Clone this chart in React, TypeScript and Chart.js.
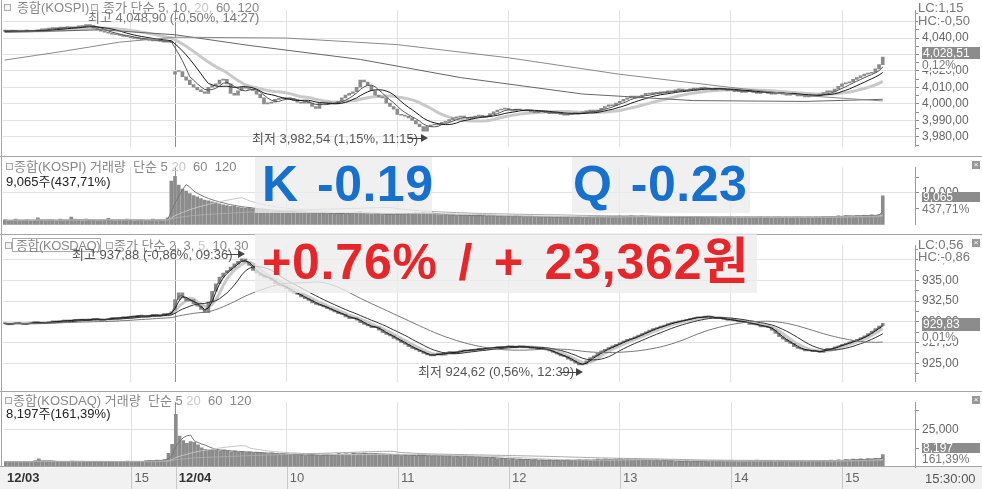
import React, { useEffect, useRef } from 'react';
import { Chart, registerables } from 'chart.js';

Chart.register(...registerables);

const FONT = '"Liberation Sans", "Noto Sans CJK KR", "DejaVu Sans", sans-serif';
Chart.defaults.font.family = FONT;

// ---------- time axis (bar index, 2-minute bars, 0 = 12/04 09:00) ----------
const X_MIN = -46.42;
const X_MAX = 199.7;
const TIME_TICKS = [-12, 0, 30, 60, 90, 120, 150, 180];
const TIME_LABELS = ['15', '12/04', '10', '11', '12', '13', '14', '15'];
const FIRST_DAY = '12/03';

// ---------- KOSPI ----------
const KOSPI_CLOSE_1203 = [
  4044.2, 4044.0, 4044.5, 4044.1, 4043.8, 4044.3, 4044.6, 4044.0, 4044.4,
  4045.0, 4045.5, 4045.2, 4046.0, 4045.8, 4046.3, 4046.0, 4046.4,
  4046.5, 4046.2, 4046.8, 4047.0, 4047.5, 4048.2,
  4047.6, 4046.0, 4045.0, 4044.2,
  4043.5, 4043.0, 4042.4, 4042.0, 4041.6, 4041.0, 4040.8,
  4040.2, 4039.8, 4039.5, 4039.0, 4039.4, 4038.6, 4038.2, 4038.8, 4037.9, 4037.5, 4038.0, 4037.2,
];
const KOSPI_OPEN_1204 = 4018.0;
const KOSPI_CLOSE_1204 = [
  4019.7, 4019.7, 4016.5, 4014.4, 4011.7, 4010.1, 4008.5, 4007.4, 4006.4, 4010.1,
  4011.2, 4012.2, 4014.4, 4014.9, 4012.2, 4006.4, 4005.3, 4008.0, 4010.1, 4009.6,
  4009.0, 4008.0, 4005.9, 4003.7, 4000.0, 4000.5, 4001.1, 4002.7, 4003.2, 4003.7,
  4003.2, 4003.2, 4002.1, 4001.1, 4000.5, 4001.6, 4000.5, 3998.4, 3997.3, 4000.5,
  4001.1, 4000.5, 4000.5, 4000.0, 4001.6, 4003.7, 4005.3, 4006.4, 4007.4, 4010.1,
  4014.4, 4013.3, 4011.2, 4008.0, 4005.3, 4004.3, 4003.7, 4000.5, 3998.4, 3996.8,
  3993.6, 3993.1, 3992.6, 3991.5, 3989.9, 3987.8, 3986.2, 3983.5, 3986.2, 3987.2,
  3987.2, 3987.8, 3988.8, 3989.4, 3990.4, 3991.5, 3992.0, 3992.6, 3991.5, 3991.0,
  3992.0, 3992.6, 3993.1, 3992.0, 3992.6, 3994.1, 3995.2, 3996.3, 3996.8, 3997.3,
  3996.3, 3995.7, 3996.8, 3996.3, 3995.7, 3996.3, 3995.2, 3994.7, 3995.2, 3995.7,
  3994.7, 3994.1, 3994.1, 3994.7, 3993.6, 3993.1, 3993.6, 3994.1, 3994.7, 3994.1,
  3995.2, 3995.7, 3996.3, 3995.2, 3996.3, 3997.3, 3998.4, 3999.5, 3998.9, 4000.5,
  4001.6, 4002.7, 4003.7, 4004.8, 4003.7, 4004.8, 4005.3, 4006.4, 4005.9, 4006.9,
  4006.4, 4007.4, 4006.9, 4008.0, 4007.4, 4008.5, 4009.0, 4008.0, 4008.5, 4009.0,
  4009.6, 4009.0, 4010.1, 4009.6, 4009.0, 4008.5, 4009.6, 4009.0, 4008.5, 4008.0,
  4008.5, 4007.4, 4008.0, 4006.9, 4007.4, 4008.0, 4006.9, 4006.4, 4006.9, 4007.4,
  4006.4, 4005.9, 4006.9, 4006.4, 4005.9, 4005.3, 4006.4, 4005.9, 4004.8, 4005.3,
  4004.3, 4004.8, 4005.3, 4004.8, 4005.9, 4006.9, 4008.0, 4007.4, 4009.0, 4010.6,
  4012.2, 4012.8, 4013.3, 4014.9, 4016.0, 4017.0, 4018.1, 4018.6, 4019.1, 4021.3,
  4023.9, 4028.51,
];
// 60 / 120 bar averages: [bar index, value]
const KOSPI_MA60: [number, number][] = [
  [-46, 4043.5], [-20, 4045.0], [0, 4042.0], [20, 4035.5], [50, 4027.0], [77, 4016.0],
  [110, 4006.0], [140, 4002.0], [170, 4001.5], [191, 4002.8],
];
const KOSPI_MA120: [number, number][] = [
  [-46, 4026.6], [-30, 4032.0], [-15, 4037.5], [0, 4040.5], [30, 4040.0], [60, 4036.0],
  [90, 4028.0], [120, 4018.0], [150, 4010.0], [170, 4005.0], [191, 4001.8],
];
const KOSPI_VOL_1203 = [
  1600, 1200, 1400, 1800, 1300, 1400, 1600, 1200, 1500, 2200, 1400, 1300, 1600, 1400, 1200,
  1800, 1500, 1400, 2400, 1600, 1400, 1300, 1800, 1600, 1400, 1200, 1500, 1600, 2000, 1400,
  1300, 1600, 1400, 1800, 1500, 1200, 1400, 1600, 1300, 1400, 1800, 1500, 1600, 1400, 2200, 13700,
];
const KOSPI_VOL_1204 = [
  15200, 12500, 11200, 10600, 9800, 9200, 8800, 8200, 7800, 7500,
  7200, 6900, 6600, 6300, 6000, 5800, 5900, 5500, 5300, 5200,
  5300, 5000, 4900, 4700, 4800, 4600, 4400, 4300, 4400, 4200,
  4100, 4000, 4200, 3900, 3800, 4000, 3700, 3900, 3800, 3600,
  3700, 3500, 3600, 3400, 3500, 3700, 3400, 3600, 3800, 4000,
  4200, 3700, 3500, 3400, 3300, 3400, 3200, 3300, 3400, 3200,
  3500, 3300, 3400, 3600, 3500, 3800, 3700, 4000, 3600, 3400,
  3300, 3200, 3100, 3200, 3000, 3100, 2900, 3000, 2900, 2800,
  2900, 2800, 3000, 2900, 2700, 2800, 2900, 2700, 2800, 2600,
  2700, 2600, 2800, 2700, 2500, 2600, 2700, 2500, 2600, 2400,
  2500, 2600, 2400, 2500, 2600, 2400, 2500, 2300, 2400, 2500,
  2300, 2400, 2500, 2400, 2600, 2500, 2400, 2600, 2500, 2700,
  2800, 2700, 2600, 2900, 2700, 2600, 2800, 2700, 2600, 2500,
  2600, 2700, 2500, 2400, 2600, 2500, 2400, 2500, 2600, 2400,
  2300, 2400, 2500, 2300, 2400, 2500, 2400, 2300, 2400, 2500,
  2400, 2300, 2400, 2300, 2500, 2400, 2300, 2400, 2500, 2300,
  2400, 2300, 2400, 2500, 2300, 2400, 2300, 2400, 2500, 2400,
  2300, 2400, 2300, 2500, 2400, 2600, 2500, 2700, 2600, 2800,
  2700, 2900, 2800, 2700, 2900, 2800, 3000, 2900, 3100, 3000,
  3200, 9065,
];

// ---------- KOSDAQ ----------
const KOSDAQ_CLOSE_1203 = [
  929.8, 929.7, 929.8, 929.9, 929.8, 929.7, 929.8, 929.9, 930.0, 929.9,
  929.8, 929.9, 930.0, 930.1, 930.0, 930.1, 930.2, 930.1, 930.2, 930.3,
  930.2, 930.3, 930.2, 930.3, 930.4, 930.3, 930.2, 930.3, 930.4, 930.5,
  930.4, 930.5, 930.6, 930.5, 930.7, 930.6, 930.8, 930.7, 930.6, 930.8,
  930.9, 930.7, 930.8, 931.0, 930.9, 931.2,
];
const KOSDAQ_OPEN_1204 = 931.4;
const KOSDAQ_CLOSE_1204 = [
  932.7, 933.5, 932.9, 932.5, 932.7, 932.2, 931.9, 931.5, 931.1, 932.4,
  933.7, 934.6, 935.4, 935.9, 936.2, 936.6, 937.0, 937.3, 937.6, 937.2,
  936.8, 936.2, 935.9, 935.6, 935.4, 935.3, 935.0, 934.6, 934.4, 934.3,
  934.0, 933.7, 933.5, 933.3, 933.0, 932.8, 932.6, 932.3, 932.1, 932.0,
  931.8, 931.6, 931.4, 931.2, 931.0, 930.9, 930.6, 930.4, 930.5, 930.2,
  929.9, 929.7, 929.5, 929.3, 929.4, 929.0, 928.7, 928.5, 928.3, 928.0,
  927.8, 927.5, 927.3, 927.0, 926.8, 926.6, 926.4, 926.2, 926.0, 925.9,
  926.1, 926.2, 926.0, 926.3, 926.4, 926.2, 926.4, 926.5, 926.6, 926.5,
  926.7, 926.6, 926.8, 926.7, 926.9, 926.8, 926.9, 927.0, 926.9, 927.0,
  927.1, 926.9, 927.0, 927.1, 926.9, 927.0, 926.8, 926.9, 926.7, 926.8,
  926.6, 926.5, 926.3, 926.1, 925.9, 925.8, 925.5, 925.3, 925.0, 924.8,
  924.9, 925.3, 925.7, 925.9, 926.2, 926.5, 926.7, 926.9, 927.1, 927.3,
  927.5, 927.7, 927.9, 928.0, 928.2, 928.4, 928.6, 928.8, 929.0, 929.2,
  929.3, 929.5, 929.6, 929.8, 929.9, 930.0, 930.1, 930.2, 930.3, 930.4,
  930.5, 930.6, 930.5, 930.7, 930.6, 930.5, 930.4, 930.5, 930.3, 930.2,
  930.3, 930.1, 930.0, 930.1, 929.9, 929.7, 929.8, 929.6, 929.4, 929.5,
  929.3, 929.0, 928.6, 928.2, 927.9, 927.6, 927.4, 927.0, 926.8, 926.7,
  926.5, 926.6, 926.4, 926.5, 926.3, 926.6, 926.8, 926.7, 927.0, 927.1,
  927.3, 927.4, 927.6, 927.7, 927.9, 928.1, 928.3, 928.6, 928.9, 929.2,
  929.5, 929.83,
];
const KOSDAQ_VOL_1203 = [
  3600, 3400, 3800, 3500, 3300, 3700, 3600, 3400, 4200, 5500,
  3800, 3600, 3500, 3400, 3700, 3600, 3500, 3800, 4000, 3600,
  3700, 3500, 3400, 3600, 3800, 3500, 3300, 3600, 3700, 3500,
  3400, 3600, 3800, 3900, 3600, 3700, 3500, 3800, 4200, 4500,
  4300, 4600, 4400, 5000, 9000, 15000,
];
const KOSDAQ_VOL_1204 = [
  35000, 20500, 17600, 15700, 16900, 16300, 14700, 12800, 11800, 11200,
  11600, 11000, 10800, 11200, 10400, 10000, 10500, 9800, 10200, 9600,
  9900, 9400, 9800, 9200, 9000, 8800, 9200, 8600, 8400, 8800,
  8200, 8000, 8500, 7800, 8200, 7600, 8000, 8400, 7800, 7500,
  8000, 8600, 8200, 7800, 9000, 8400, 8800, 8200, 9400, 8600,
  8800, 9200, 8400, 8800, 9000, 8200, 8600, 8000, 8400, 7800,
  8200, 7600, 8000, 7400, 7800, 7200, 7600, 8000, 7400, 7200,
  7800, 7400, 7600, 7200, 7600, 7000, 7400, 6800, 7200, 6600,
  7000, 6400, 6800, 6200, 6400, 5800, 6000, 5400, 5800, 5200,
  5000, 5400, 4800, 5200, 4600, 5000, 4400, 4800, 4200, 4600,
  4400, 4800, 4200, 4600, 4000, 4400, 4800, 4200, 4600, 5000,
  4400, 4800, 4200, 4600, 5200, 4800, 5400, 5000, 4600, 5200,
  5600, 5000, 5400, 4800, 5200, 4600, 5000, 4400, 4800, 4200,
  4600, 4000, 4400, 3800, 4200, 3600, 4000, 3800, 4200, 3600,
  4000, 3800, 4400, 4000, 3600, 4200, 3800, 4400, 4000, 3800,
  4200, 3800, 3600, 4000, 3800, 4400, 4000, 4600, 4200, 3800,
  4400, 4000, 3600, 4200, 3800, 4000, 3600, 4200, 3800, 4000,
  3600, 3800, 4200, 3800, 4000, 4400, 4000, 4600, 4200, 4800,
  4400, 5000, 4600, 5200, 4800, 5400, 5000, 5600, 5200, 5800,
  5400, 8197,
];

// ---------- axis ticks ----------
const KOSPI_MAJOR = [3980, 3990, 4000, 4010, 4020, 4030, 4040, 4050];
const KOSPI_MINOR = [3975, 3985, 3995, 4005, 4015, 4025, 4035, 4045, 4055];
const KOSDAQ_MAJOR = [925, 927.5, 930, 932.5, 935, 937.5];
const KOSDAQ_MINOR = [923.75, 926.25, 928.75, 931.25, 933.75, 936.25, 938.75];
const KOSPI_VOL_MAJOR = [10000];
const KOSPI_VOL_MINOR = [5000, 15000];
const KOSDAQ_VOL_MAJOR = [25000];
const KOSDAQ_VOL_MINOR = [12500, 37500];

// ---------- helpers ----------
type P = { x: number; v: number };
function series(d1: number[], d2: number[]): P[] {
  const out: P[] = [];
  d1.forEach((v, k) => out.push({ x: k - d1.length, v }));
  d2.forEach((v, k) => out.push({ x: k, v }));
  return out;
}
function sma(p: P[], n: number) {
  return p.map((q, k) => {
    const s = p.slice(Math.max(0, k - n + 1), k + 1);
    return { x: q.x, y: s.reduce((a, b) => a + b.v, 0) / s.length };
  });
}
function candles(p: P[], gapOpen: number) {
  return p.map((q, k) => {
    const o = q.x === 0 ? gapOpen : k === 0 ? q.v : p[k - 1].v;
    return { x: q.x, y: [o, q.v] };
  });
}
function fmt(v: number, dec: number) {
  const s = v.toFixed(dec);
  const [ip, fp] = s.split('.');
  const g = ip.replace(/\B(?=(\d{3})+(?!\d))/g, ',');
  return fp ? g + ',' + fp : g;
}
const tv = (c: any) => (c && c.tick ? c.tick.value : NaN);

const axisBandPlugin = {
  id: 'axisBand',
  beforeDraw(chart: any) {
    const { ctx, chartArea, width, height } = chart;
    ctx.save();
    ctx.fillStyle = '#f1f1f1';
    ctx.fillRect(0, chartArea.bottom, width, height - chartArea.bottom);
    ctx.strokeStyle = '#c8c8c8';
    ctx.lineWidth = 1;
    const xs = chart.scales.x;
    TIME_TICKS.forEach((v) => {
      const px = Math.round(xs.getPixelForValue(v)) + 0.5;
      ctx.beginPath();
      ctx.moveTo(px, chartArea.bottom);
      ctx.lineTo(px, height);
      ctx.stroke();
    });
    ctx.restore();
  },
};

function line(data: any[], color: string, width: number, order: number) {
  return {
    type: 'line', data, borderColor: color, borderWidth: width, pointRadius: 0,
    tension: 0, order, spanGaps: true,
  };
}
function bars(data: any[], color: string, order: number) {
  return {
    type: 'bar', data, backgroundColor: color, barThickness: 3, minBarLength: 1,
    grouped: false, order,
  };
}

function buildConfig(o: {
  datasets: any[]; yMin: number; yMax: number; major: number[]; minor: number[]; dec: number;
  padTop: number; padBottom: number; bottomAxis?: boolean;
}): any {
  const majorSet = new Set(o.major);
  const xTicks = o.bottomAxis ? [X_MIN, ...TIME_TICKS] : TIME_TICKS;
  const isDay = (v: number) => v === X_MIN || v === 0;
  return {
    type: 'bar',
    data: { datasets: o.datasets },
    plugins: o.bottomAxis ? [axisBandPlugin] : [],
    options: {
      responsive: false,
      animation: false,
      events: [],
      layout: { padding: { left: 3, right: 0, top: o.padTop, bottom: o.padBottom } },
      plugins: { legend: { display: false }, tooltip: { enabled: false } },
      scales: {
        x: {
          type: 'linear', min: X_MIN, max: X_MAX, offset: false,
          afterBuildTicks: (s: any) => { s.ticks = xTicks.map((v) => ({ value: v })); },
          afterFit: (s: any) => { s.height = o.bottomAxis ? 22 : 0; },
          grid: {
            offset: false, drawTicks: false, lineWidth: 1,
            color: (c: any) => {
              const v = tv(c);
              if (v === X_MIN) return 'rgba(0,0,0,0)';
              return v === 0 ? '#8f8f8f' : '#e2e2e2';
            },
          },
          border: { display: false },
          ticks: {
            display: !!o.bottomAxis, autoSkip: false, maxRotation: 0, minRotation: 0,
            align: 'start', labelOffset: 3, padding: 4,
            callback: (v: number) => (v === X_MIN ? FIRST_DAY : TIME_LABELS[TIME_TICKS.indexOf(v)] || ''),
            color: (c: any) => (isDay(tv(c)) ? '#333' : '#666'),
            font: (c: any) => ({ family: FONT, size: 13, weight: isDay(tv(c)) ? 'bold' : 'normal' }),
          },
        },
        y: {
          position: 'right', min: o.yMin, max: o.yMax,
          afterFit: (s: any) => { s.width = 67; },
          afterBuildTicks: (s: any) => {
            s.ticks = [...o.major, ...o.minor].filter((v) => v >= o.yMin && v <= o.yMax)
              .sort((a, b) => a - b).map((v) => ({ value: v }));
          },
          grid: {
            drawTicks: true, tickLength: 4, tickColor: '#8f8f8f',
            color: (c: any) => (majorSet.has(tv(c)) ? '#e2e2e2' : 'rgba(0,0,0,0)'),
          },
          border: { display: true, color: '#9a9a9a' },
          ticks: {
            autoSkip: false, padding: 3, color: '#666', font: { family: FONT, size: 12 },
            callback: (v: number) => (majorSet.has(v) ? fmt(v, o.dec) : ''),
          },
        },
      },
    },
  };
}

// ---------- chart configs ----------
function kospiPrice() {
  const p = series(KOSPI_CLOSE_1203, KOSPI_CLOSE_1204);
  return buildConfig({
    datasets: [
      line(sma(p, 20), '#c9c9c9', 3, 3),
      bars(candles(p, KOSPI_OPEN_1204), '#8c8c8c', 2),
      line(KOSPI_MA120.map(([x, y]) => ({ x, y })), '#8a8a8a', 1, 1),
      line(KOSPI_MA60.map(([x, y]) => ({ x, y })), '#666', 1, 1),
      line(sma(p, 10), '#1a1a1a', 1, 1),
      line(sma(p, 5), '#555', 1, 1),
    ],
    yMin: 3973.94, yMax: 4056.91, major: KOSPI_MAJOR, minor: KOSPI_MINOR, dec: 2,
    padTop: 0, padBottom: 1,
  });
}
function kospiVol() {
  const p = series(KOSPI_VOL_1203, KOSPI_VOL_1204);
  return buildConfig({
    datasets: [
      bars(p.map((q) => ({ x: q.x, y: q.v })), '#8c8c8c', 2),
      line(sma(p, 60), '#aaa', 1, 1),
      line(sma(p, 20), '#c4c4c4', 1, 1),
      line(sma(p, 5), '#777', 1, 1),
    ],
    yMin: 0, yMax: 18095, major: KOSPI_VOL_MAJOR, minor: KOSPI_VOL_MINOR, dec: 0,
    padTop: 1, padBottom: 1,
  });
}
function kosdaqPrice() {
  const p = series(KOSDAQ_CLOSE_1203, KOSDAQ_CLOSE_1204);
  return buildConfig({
    datasets: [
      line(sma(p, 5), '#c9c9c9', 3, 3),
      bars(candles(p, KOSDAQ_OPEN_1204), '#8c8c8c', 2),
      line(sma(p, 30), '#777', 1, 1),
      line(sma(p, 10), '#333', 1, 1),
      line(sma(p, 3), '#1a1a1a', 1, 1),
      line(sma(p, 2), '#666', 1, 1),
    ],
    yMin: 922.766, yMax: 939.255, major: KOSDAQ_MAJOR, minor: KOSDAQ_MINOR, dec: 2,
    padTop: 1, padBottom: 1,
  });
}
function kosdaqVol() {
  const p = series(KOSDAQ_VOL_1203, KOSDAQ_VOL_1204);
  return buildConfig({
    datasets: [
      bars(p.map((q) => ({ x: q.x, y: q.v })), '#8c8c8c', 2),
      line(sma(p, 60), '#aaa', 1, 1),
      line(sma(p, 20), '#c4c4c4', 1, 1),
      line(sma(p, 5), '#777', 1, 1),
    ],
    yMin: 0, yMax: 43023, major: KOSDAQ_VOL_MAJOR, minor: KOSDAQ_VOL_MINOR, dec: 0,
    padTop: 1, padBottom: 0, bottomAxis: true,
  });
}

// ---------- overlay pieces ----------
const T = (p: { x: number; y: number; s?: number; c?: string; w?: any; bg?: string; ls?: number; ws?: number; children: any }) => (
  <div style={{
    position: 'absolute', left: p.x, top: p.y, fontSize: p.s || 13, color: p.c || '#888',
    fontWeight: p.w || 'normal', lineHeight: 1, whiteSpace: 'pre', background: p.bg, fontFamily: FONT,
    letterSpacing: p.ls || 0, wordSpacing: p.ws || 0,
  }}>{p.children}</div>
);
const Sq = ({ x, y }: { x: number; y: number }) => (
  <div style={{ position: 'absolute', left: x, top: y, width: 5, height: 5, border: '1px solid #aaa', background: '#f4f4f4' }} />
);
const Arrow = ({ x1, x2, y }: { x1: number; x2: number; y: number }) => (
  <>
    <div style={{ position: 'absolute', left: x1, top: y, width: x2 - x1 - 6, height: 1, background: '#444' }} />
    <div style={{
      position: 'absolute', left: x2 - 7, top: y - 4, width: 0, height: 0,
      borderTop: '4.5px solid transparent', borderBottom: '4.5px solid transparent', borderLeft: '7px solid #444',
    }} />
  </>
);
const ValBox = ({ y, h, text }: { y: number; h: number; text: string }) => (
  <div style={{
    position: 'absolute', left: 922, top: y, width: 58, height: h, background: '#8c8c8c', color: '#fff',
    fontSize: 12, lineHeight: h + 'px', paddingLeft: 1, fontFamily: FONT, boxSizing: 'border-box',
  }}>{text}</div>
);
const HLine = ({ y }: { y: number }) => (
  <div style={{ position: 'absolute', left: 0, top: y, width: 982, height: 1, background: '#a5a5a5' }} />
);
const CloseBtn = ({ y }: { y: number }) => (
  <div style={{
    position: 'absolute', left: 972, top: y, width: 8, height: 8, background: '#999', color: '#fff',
    fontSize: 8, lineHeight: '8px', textAlign: 'center', fontFamily: FONT,
  }}>×</div>
);
const LIGHT = '#c8c8c8';

export default function App() {
  const r1 = useRef<HTMLCanvasElement>(null);
  const r2 = useRef<HTMLCanvasElement>(null);
  const r3 = useRef<HTMLCanvasElement>(null);
  const r4 = useRef<HTMLCanvasElement>(null);

  useEffect(() => {
    const charts: Chart[] = [];
    const mk = (el: any, cfg: any) => {
      try { charts.push(new Chart(el, cfg)); } catch (e) { console.error(e); }
    };
    mk(r1.current, kospiPrice());
    mk(r2.current, kospiVol());
    mk(r3.current, kosdaqPrice());
    mk(r4.current, kosdaqVol());
    return () => charts.forEach((c) => c.destroy());
  }, []);

  const cv = (top: number, h: number) => ({ position: 'absolute' as const, left: 0, top, width: 982, height: h });

  return (
    <div style={{ position: 'fixed', left: 0, top: 0, width: 982, height: 489, background: '#fff', overflow: 'hidden', fontFamily: FONT }}>
      <canvas ref={r1} width={982} height={157} style={cv(0, 157)} />
      <canvas ref={r2} width={982} height={78} style={cv(157, 78)} />
      <canvas ref={r3} width={982} height={157} style={cv(235, 157)} />
      <canvas ref={r4} width={982} height={97} style={cv(392, 97)} />

      <HLine y={156} />
      <HLine y={234} />
      <HLine y={391} />
      <HLine y={466} />
      <div style={{ position: 'absolute', left: 1, top: 0, width: 1, height: 467, background: '#a5a5a5' }} />

      {/* KOSPI price header */}
      <Sq x={4} y={4} />
      <T x={17} y={1}>종합(KOSPI)</T>
      <Sq x={91} y={4} />
      <T x={103} y={1}>종가 단순 5, 10, <span style={{ color: LIGHT }}>20,</span> 60, 120</T>
      <T x={88} y={11} c="#777">최고 4,048,90 (-0,50%, 14:27)</T>
      <T x={252} y={131.5} c="#555">최저 3,982,54 (1,15%, 11:15)</T>
      <Arrow x1={408} x2={428} y={138} />

      {/* KOSPI volume header */}
      <Sq x={6} y={163} />
      <T x={14} y={159.5}>종합(KOSPI) 거래량  단순 5 <span style={{ color: LIGHT }}>20</span>  60  120</T>
      <T x={6} y={174.5} c="#222">9,065주(437,71%)</T>

      {/* KOSDAQ price header */}
      <div style={{ position: 'absolute', left: 12, top: 238, width: 89, height: 14, border: '1px solid #aaa', boxSizing: 'border-box' }} />
      <Sq x={5} y={242} />
      <T x={16} y={238.5} ls={-0.4}>종합(KOSDAQ)</T>
      <Sq x={106} y={242} />
      <T x={114} y={238.5}>종가 단순 2, 3, <span style={{ color: LIGHT }}>5,</span> 10, 30</T>
      <T x={72} y={247.5} c="#555">최고 937,88 (-0,86%, 09:36)</T>
      <Arrow x1={227} x2={245} y={254} />
      <T x={418} y={365} c="#555">최저 924,62 (0,56%, 12:39)</T>
      <Arrow x1={560} x2={583} y={372} />

      {/* KOSDAQ volume header */}
      <Sq x={5} y={397} />
      <T x={13} y={394}>종합(KOSDAQ) 거래량  단순 5 <span style={{ color: LIGHT }}>20</span>  60  120</T>
      <T x={6} y={406.5} c="#222">8,197주(161,39%)</T>

      {/* right axis labels */}
      <T x={918} y={1} c="#777" bg="#fff">LC:1,15</T>
      <T x={918} y={13.5} c="#777" bg="#fff">HC:-0,50</T>
      <ValBox y={47} h={12} text="4,028,51" />
      <T x={922} y={58.5} s={12} c="#777" bg="#fff">0,12%</T>

      <CloseBtn y={161} />
      <ValBox y={192} h={10} text="9,065" />
      <T x={922} y={202.5} s={12} c="#777" bg="#fff">437,71%</T>

      <CloseBtn y={239} />
      <T x={918} y={237.5} c="#777" bg="#fff">LC:0,56</T>
      <T x={918} y={249.5} c="#777" bg="#fff">HC:-0,86</T>
      <ValBox y={318} h={13} text="929,83" />
      <T x={922} y={331} s={12} c="#777" bg="#fff">0,01%</T>

      <CloseBtn y={396} />
      <ValBox y={443} h={10} text="8,197" />
      <T x={922} y={453} s={12} c="#777" bg="#fff">161,39%</T>
      <T x={925} y={471.5} c="#555">15:30:00</T>

      {/* big overlays */}
      <div style={{ position: 'absolute', left: 255, top: 157, width: 177, height: 56, background: 'rgba(236,236,236,0.78)' }} />
      <div style={{ position: 'absolute', left: 572, top: 157, width: 178, height: 56, background: 'rgba(236,236,236,0.78)' }} />
      <div style={{ position: 'absolute', left: 255, top: 233, width: 502, height: 60, background: 'rgba(236,236,236,0.78)' }} />
      <T x={262} y={158.5} s={50} w="bold" c="#1570d0" ls={0.5} ws={4}>K -0.19</T>
      <T x={573} y={158.5} s={50} w="bold" c="#1570d0" ls={0.5} ws={4}>Q -0.23</T>
      <T x={262} y={236.5} s={50} w="bold" c="#e8262a" ls={0.8} ws={6}>+0.76% / + 23,362원</T>
    </div>
  );
}
